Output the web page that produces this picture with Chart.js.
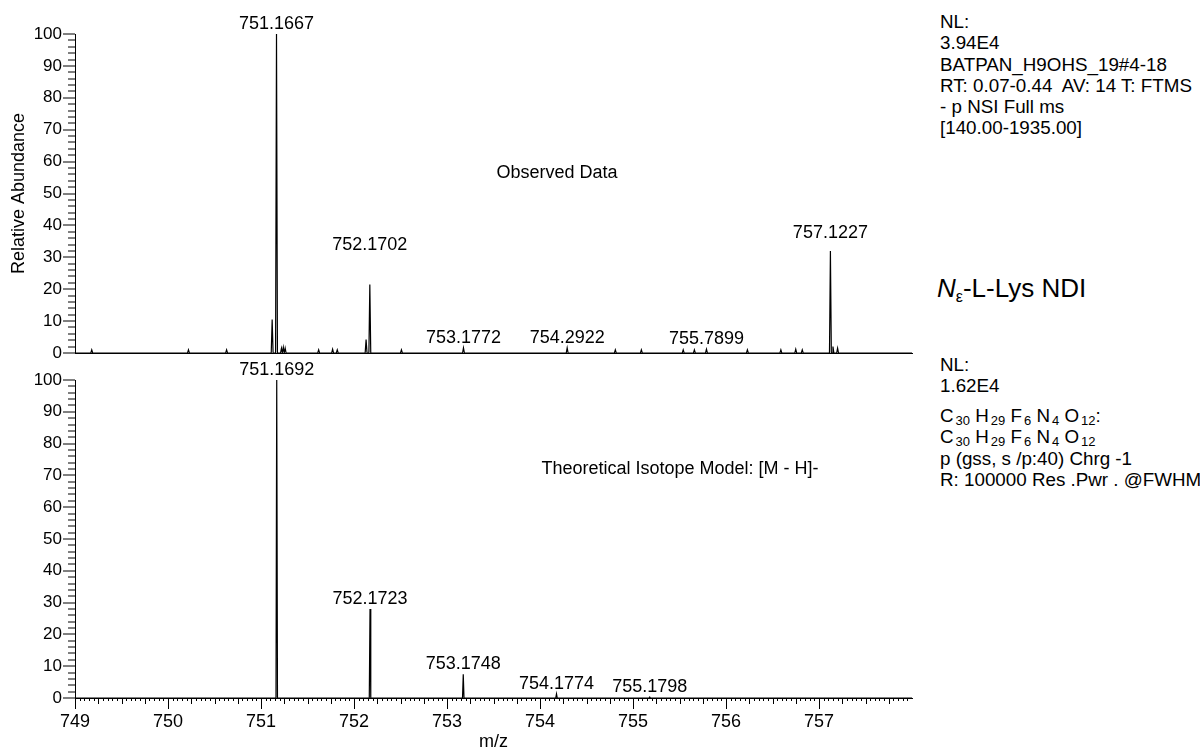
<!DOCTYPE html>
<html>
<head>
<meta charset="utf-8">
<script src="https://cdn.jsdelivr.net/npm/chart.js@4.4.0/dist/chart.umd.min.js"></script>
<style>
  body { margin: 0; background: #fff; width: 1200px; height: 751px; overflow: hidden; position: relative;
         font-family: "Liberation Sans", Arial, sans-serif; color: #000; }
  canvas { position: absolute; left: 0; }
  #topChart { top: 0; }
  #botChart { top: 356px; }
  .info { position: absolute; left: 940px; font-size: 18.8px; line-height: 21.3px; white-space: pre; }
  .info sub { font-size: 13px; vertical-align: -3px; line-height: 0; margin-left: 2px; }
  .note { position: absolute; font-size: 18px; transform: translate(-50%, -50%); white-space: nowrap; }
  .lys { position: absolute; left: 937px; top: 288px; font-size: 26px; transform: translateY(-50%); white-space: nowrap; }
  .lys sub { font-size: 16px; vertical-align: -5px; line-height: 0; }
</style>
</head>
<body>
<canvas id="topChart" width="930" height="365"></canvas>
<canvas id="botChart" width="930" height="395"></canvas>

<div class="info" style="top:11px">NL:
3.94E4
BATPAN_H9OHS_19#4-18
RT: 0.07-0.44  AV: 14 T: FTMS
- p NSI Full ms
[140.00-1935.00]</div>
<div class="lys"><i>N</i><sub>ε</sub>-L-Lys NDI</div>
<div class="info" style="top:354px">NL:
1.62E4</div>
<div class="info" style="top:405px">C<sub>30</sub> H<sub>29</sub> F<sub>6</sub> N<sub>4</sub> O<sub>12</sub>:
C<sub>30</sub> H<sub>29</sub> F<sub>6</sub> N<sub>4</sub> O<sub>12</sub>
p (gss, s /p:40) Chrg -1
R: 100000 Res .Pwr . @FWHM</div>
<div class="note" style="left:557px; top:172px">Observed Data</div>
<div class="note" style="left:680px; top:468px">Theoretical Isotope Model: [M - H]-</div>

<script>
const xMin = 749;
const xMax = 758;
const xTicks = [749, 750, 751, 752, 753, 754, 755, 756, 757];
const yTicks = [0, 10, 20, 30, 40, 50, 60, 70, 80, 90, 100];

// observed spectrum (peak m/z, relative abundance)
const obsMz  = [749.18, 750.22, 750.63, 751.12, 751.1667, 751.22, 751.24, 751.26, 751.62, 751.77, 751.82,
                752.13, 752.1702, 752.51, 753.1772, 754.2922, 754.81, 755.09, 755.54, 755.66, 755.7899,
                756.23, 756.59, 756.75, 756.82, 757.1227, 757.15, 757.2];
const obsInt = [1.0, 1.0, 1.0, 10.5, 100, 1.5, 1.8, 1.5, 1.0, 1.2, 1.0,
                4.2, 21.5, 1.0, 1.6, 1.6, 1.0, 1.0, 1.0, 1.0, 1.2,
                1.0, 1.0, 1.2, 1.0, 32, 2.0, 1.5];
const obsLabels = ['751.1667', '752.1702', '753.1772', '754.2922', '755.7899', '757.1227'];

// theoretical isotope model
const theoMz  = [751.1692, 752.1723, 753.1748, 754.1774, 755.1798];
const theoInt = [100, 28, 7.5, 1.3, 0.3];
const theoLabels = ['751.1692', '752.1723', '753.1748', '754.1774', '755.1798'];

const tickFont = { family: 'Liberation Sans', size: 17 };

// turn a peak list into a stick-like profile line
function profile(mz, inten, hw) {
  const pts = [{ x: xMin, y: 0 }];
  mz.forEach((m, i) => {
    pts.push({ x: m - hw, y: 0 }, { x: m, y: inten[i] }, { x: m + hw, y: 0 });
  });
  pts.push({ x: xMax, y: 0 });
  return pts;
}

function peakLabels(mz, inten, labels, raise) {
  return {
    id: 'peakLabels',
    afterDatasetsDraw(chart) {
      const { ctx, scales: { x, y } } = chart;
      ctx.save();
      ctx.font = '18px "Liberation Sans"';
      ctx.fillStyle = '#000';
      ctx.textAlign = 'center';
      ctx.textBaseline = 'alphabetic';
      labels.forEach(t => {
        const i = mz.indexOf(parseFloat(t));
        ctx.fillText(t, x.getPixelForValue(mz[i]), y.getPixelForValue(inten[i]) - 5 - (raise[t] || 0));
      });
      ctx.restore();
    }
  };
}

// ticks: long on labelled y values, short in between; small ones on the m/z axis
const extraTicks = {
  id: 'extraTicks',
  afterDraw(chart, args, opts) {
    const { ctx, chartArea: a, scales: { x, y } } = chart;
    ctx.save();
    ctx.strokeStyle = '#000';
    ctx.lineWidth = 1;
    ctx.beginPath();
    for (let v = 0; v <= 100; v += 2) {
      const py = Math.round(y.getPixelForValue(v));
      ctx.moveTo(a.left - (yTicks.includes(v) ? 12 : 7), py);
      ctx.lineTo(a.left, py);
    }
    if (opts.xTicks) {
      for (let k = Math.ceil(x.min * 20); k <= Math.floor(x.max * 20); k++) {
        if (k % 20 === 0) continue;
        const px = Math.round(x.getPixelForValue(k / 20)) + 0.5;
        const len = k % 5 === 0 ? 6 : 3;
        ctx.moveTo(px, a.bottom);
        ctx.lineTo(px, a.bottom + len);
      }
    }
    ctx.stroke();
    ctx.restore();
  }
};

function yScale(title) {
  return {
    min: 0, max: 100,
    afterBuildTicks: s => { s.ticks = yTicks.map(v => ({ value: v })); },
    afterFit: s => { s.width = 75; s.paddingTop = 0; s.paddingBottom = 0; },
    ticks: { color: '#000', font: tickFont, padding: 13 },
    grid: { drawOnChartArea: false, drawTicks: false, tickLength: 0, color: '#000' },
    border: { color: '#000' },
    title: {
      display: !!title, text: title, color: '#000',
      font: { family: 'Liberation Sans', size: 18 },
      padding: { top: 8, bottom: 0 }
    }
  };
}

new Chart(document.getElementById('topChart'), {
  type: 'line',
  data: {
    datasets: [{
      data: profile(obsMz, obsInt, 0.01),
      borderColor: '#000', borderWidth: 1.2, pointRadius: 0, tension: 0, fill: false
    }]
  },
  options: {
    responsive: false, animation: false, devicePixelRatio: 1,
    layout: { padding: { left: 0, right: 18, top: 34, bottom: 0 } },
    plugins: { legend: { display: false }, tooltip: { enabled: false }, extraTicks: { xTicks: false } },
    scales: {
      x: {
        type: 'linear', min: xMin, max: xMax,
        ticks: { display: false },
        grid: { display: false },
        border: { color: '#000' },
        afterFit: s => { s.height = 12; }
      },
      y: yScale('Relative Abundance')
    }
  },
  plugins: [peakLabels(obsMz, obsInt, obsLabels, { '752.1702': 29, '757.1227': 8 }), extraTicks]
});

new Chart(document.getElementById('botChart'), {
  type: 'line',
  data: {
    datasets: [{
      data: profile(theoMz, theoInt, 0.008),
      borderColor: '#000', borderWidth: 1.2, pointRadius: 0, tension: 0, fill: false
    }]
  },
  options: {
    responsive: false, animation: false, devicePixelRatio: 1,
    layout: { padding: { left: 0, right: 18, top: 24, bottom: 0 } },
    plugins: { legend: { display: false }, tooltip: { enabled: false }, extraTicks: { xTicks: true } },
    scales: {
      x: {
        type: 'linear', min: xMin, max: xMax,
        afterBuildTicks: s => { s.ticks = xTicks.map(v => ({ value: v })); },
        afterFit: s => { s.height = 53; },
        ticks: { color: '#000', font: { family: 'Liberation Sans', size: 18 }, padding: 2, maxRotation: 0, autoSkip: false },
        grid: { drawOnChartArea: false, tickLength: 11, color: '#000' },
        border: { color: '#000' },
        title: {
          display: true, text: 'm/z', color: '#000',
          font: { family: 'Liberation Sans', size: 18, lineHeight: 1 },
          padding: { top: 0, bottom: 0 }
        }
      },
      y: yScale('')
    }
  },
  plugins: [peakLabels(theoMz, theoInt, theoLabels, {}), extraTicks]
});
</script>
</body>
</html>
